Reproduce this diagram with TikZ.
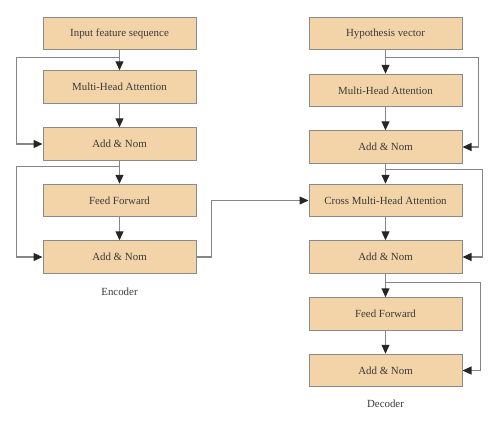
\documentclass[tikz,border=0pt]{standalone}
\usepackage{fontspec}
\setmainfont{Liberation Serif}
\usetikzlibrary{arrows.meta}
\definecolor{boxfill}{HTML}{F2D4A8}
\definecolor{boxline}{HTML}{8A8A8A}
\definecolor{wire}{HTML}{858585}
\definecolor{ink}{HTML}{3A3A3A}

\begin{document}
\begin{tikzpicture}[
    x=1pt, y=-1pt, font=\fontsize{10.9}{13}\selectfont, text=ink,
    blk/.style={draw=boxline, fill=boxfill, line width=1pt,
        minimum width=153pt, minimum height=32.5pt, inner sep=0pt},
    arr/.style={draw=wire, line width=1.2pt,
        -{Triangle[width=8pt,length=9pt,color=black!85]}}
]
    \useasboundingbox (0,0) rectangle (500,426);
    % encoder
    \foreach \y/\n/\t in {33.5/e1/Input feature sequence, 87/e2/Multi-Head Attention,
        144/e3/Add \& Nom, 200.5/e4/Feed Forward, 257/e5/Add \& Nom}
        \node[blk] (\n) at (119.5,\y) {\t};
    % decoder
    \foreach \y/\n/\t in {33.5/d1/Hypothesis vector, 90.5/d2/Multi-Head Attention,
        147/d3/Add \& Nom, 200.5/d4/Cross Multi-Head Attention, 257/d5/Add \& Nom,
        314/d6/Feed Forward, 370.5/d7/Add \& Nom}
        \node[blk] (\n) at (385.5,\y) {\t};
    \node (enc) at (119.5,292) {Encoder};
    \node (dec) at (385.5,404) {Decoder};

    \foreach \a/\b in {e1/e2,e2/e3,e3/e4,e4/e5,d1/d2,d2/d3,d3/d4,d4/d5,d5/d6,d6/d7}
        \draw[arr] (\a) -- (\b);
    % residual paths
    \draw[arr] ([yshift=-7pt]e1.south) -| ([xshift=-26pt]e3.west) -- (e3.west);
    \draw[arr] ([yshift=-6pt]e3.south) -| ([xshift=-26pt]e5.west) -- (e5.west);
    \draw[arr] ([yshift=-7pt]d1.south) -| ([xshift=16pt]d3.east) -- (d3.east);
    \draw[arr] ([yshift=-6pt]d3.south) -| ([xshift=20pt]d5.east) -- (d5.east);
    \draw[arr] ([yshift=-9pt]d5.south) -| ([xshift=18pt]d7.east) -- (d7.east);
    % encoder to decoder
    \draw[arr] (e5.east) -- ++(15,0) |- (d4.west);
\end{tikzpicture}
\end{document}
